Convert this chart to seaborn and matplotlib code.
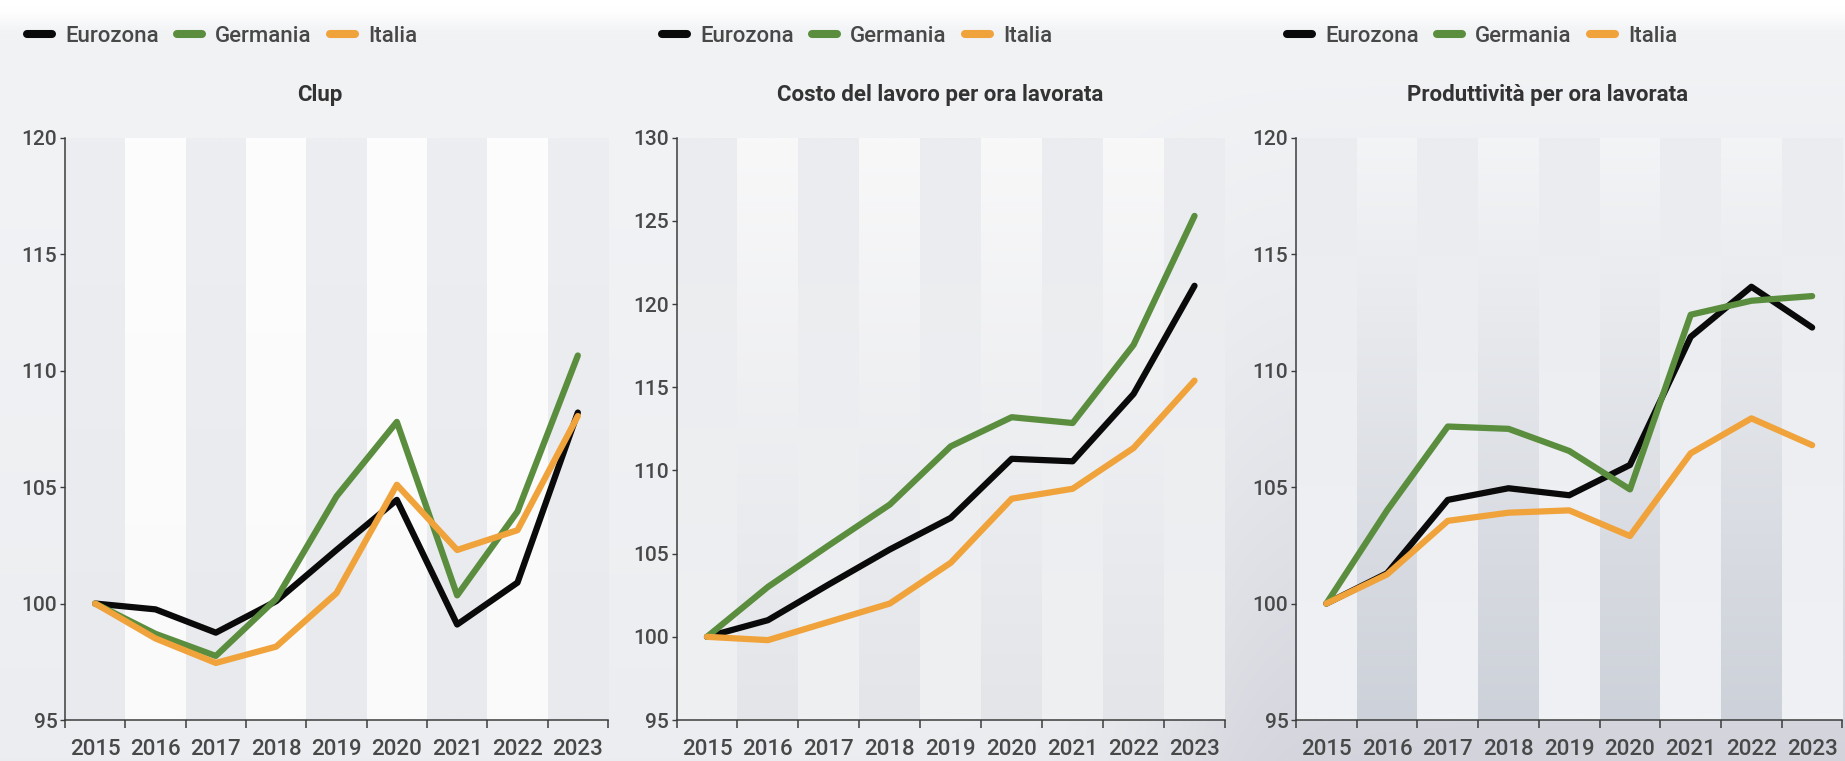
import numpy as np
import pandas as pd
import matplotlib
matplotlib.use("Agg")
import matplotlib.pyplot as plt
from matplotlib.lines import Line2D
from matplotlib.colors import to_rgb
import seaborn as sns

# ---- data -----------------------------------------------------------------
anni = ["2015", "2016", "2017", "2018", "2019", "2020", "2021", "2022", "2023"]
serie = ["Eurozona", "Germania", "Italia"]

clup_eurozona = [100.0, 99.75, 98.75, 100.1, 102.3, 104.45, 99.1, 100.9, 108.2]
clup_germania = [100.0, 98.7, 97.75, 100.2, 104.6, 107.8, 100.35, 103.95, 110.65]
clup_italia = [100.0, 98.5, 97.45, 98.15, 100.45, 105.1, 102.3, 103.15, 108.05]

costo_eurozona = [100.0, 101.0, 103.15, 105.25, 107.15, 110.7, 110.55, 114.6, 121.1]
costo_germania = [100.0, 103.0, 105.5, 107.95, 111.45, 113.2, 112.85, 117.55, 125.3]
costo_italia = [100.0, 99.8, 100.9, 102.0, 104.45, 108.3, 108.9, 111.35, 115.4]

prod_eurozona = [100.0, 101.3, 104.45, 104.95, 104.65, 105.95, 111.45, 113.6, 111.85]
prod_germania = [100.0, 104.0, 107.6, 107.5, 106.55, 104.9, 112.4, 113.0, 113.2]
prod_italia = [100.0, 101.25, 103.55, 103.9, 104.0, 102.9, 106.45, 107.95, 106.8]

titoli = ["Clup", "Costo del lavoro per ora lavorata", "Produttività per ora lavorata"]
limiti_y = [(95, 120), (95, 130), (95, 120)]

pannelli = [
    (clup_eurozona, clup_germania, clup_italia),
    (costo_eurozona, costo_germania, costo_italia),
    (prod_eurozona, prod_germania, prod_italia),
]

colori = {"Eurozona": "#0a0a0a", "Germania": "#5a8e3e", "Italia": "#f0a23b"}

# ---- style ----------------------------------------------------------------
sns.set_theme(style="white")
plt.rcParams["font.family"] = ["Roboto", "DejaVu Sans"]
plt.rcParams["lines.solid_capstyle"] = "round"
plt.rcParams["lines.solid_joinstyle"] = "round"

W, H = 1845, 761
fig = plt.figure(figsize=(W / 100, H / 100), dpi=100, facecolor="white")

# soft page background: white band at the top, light grey below,
# getting a little darker towards the lower right
bg = fig.add_axes([0, 0, 1, 1], zorder=-10)
h, w = 190, 369
yy = np.linspace(0, H, h)[:, None]
xx = np.linspace(0, W, w)[None, :]
ty = np.clip((yy - 22) / (H - 22), 0, 1)
dark = ty ** 1.4 * (6 + 26 / (1 + np.exp(-(xx - 1180) / 50)))
fade = np.clip((yy - 8) / 22, 0, 1)
r = 255 - fade * (13 + dark)
g = 255 - fade * (12 + dark)
b = 255 - fade * (10 + dark * 0.8)
bg.imshow(np.dstack([r, g, b]) / 255, extent=[0, 1, 0, 1], aspect="auto",
          interpolation="bilinear", origin="upper")
bg.set_axis_off()

# stripe colours per panel: (even top, even bottom, odd top, odd bottom)
strisce = [
    ("#eceef1", "#e8eaee", "#fdfdfd", "#fafafb"),
    ("#eaecef", "#eef0f2", "#f8f8f9", "#e3e5e9"),
    ("#eaecef", "#eff1f4", "#f3f4f6", "#cdd1d9"),
]

# axes rectangles in pixels: left, width
rett = [(65, 543), (676.5, 548.5), (1296, 546.5)]
bottom_px, top_px = 720, 137.7
titolo_x = [320, 940, 1548]
legenda_x = [27, 662, 1287]

testo = "#484848"
asse = "#3c3c3c"

for k in range(3):
    left, width = rett[k]
    ax = fig.add_axes([left / W, (H - bottom_px) / H, width / W, (bottom_px - top_px) / H])
    ax.set_facecolor("none")
    ymin, ymax = limiti_y[k]

    # alternating vertical bands, one per year
    ta, ba, tb, bb = strisce[k]
    grad = np.linspace(0, 1, 64)[:, None, None]
    for i in range(len(anni)):
        c0, c1 = (ta, ba) if i % 2 == 0 else (tb, bb)
        img = np.array(to_rgb(c0))[None, None, :] * (1 - grad) + np.array(to_rgb(c1))[None, None, :] * grad
        img = np.repeat(img, 2, axis=1)
        ax.imshow(img, extent=[i - 0.5, i + 0.5, ymin, ymax], origin="upper",
                  aspect="auto", interpolation="bilinear", zorder=0)

    df = pd.DataFrame({
        "pos": list(range(len(anni))) * 3,
        "valore": pannelli[k][0] + pannelli[k][1] + pannelli[k][2],
        "serie": [s for s in serie for _ in anni],
    })
    sns.lineplot(data=df, x="pos", y="valore", hue="serie", hue_order=serie,
                 palette=colori, linewidth=4.5, legend=False, ax=ax, zorder=3)

    ax.set_xlim(-0.5, len(anni) - 0.5)
    ax.set_ylim(ymin, ymax)
    ax.set_xlabel("")
    ax.set_ylabel("")

    # ticks at band edges, year labels centred in each band
    ax.set_xticks(np.arange(-0.5, len(anni), 1.0))
    ax.set_xticklabels([])
    ax.set_xticks(np.arange(len(anni)), minor=True)
    ax.set_xticklabels(anni, minor=True, fontweight="medium")
    ax.tick_params(axis="x", which="major", length=6, width=1.1, color=asse, direction="out", bottom=True)
    ax.tick_params(axis="x", which="minor", length=0, pad=13.5, labelsize=16, labelcolor=testo, bottom=True)

    ax.set_yticks(np.arange(ymin, ymax + 1, 5))
    ax.set_yticklabels([str(v) for v in range(ymin, ymax + 1, 5)], fontweight="medium")
    ax.tick_params(axis="y", which="major", length=3.5, width=1.0, color=asse, pad=2,
                   labelsize=15, labelcolor=testo, left=True)

    for s in ["top", "right"]:
        ax.spines[s].set_visible(False)
    for s in ["left", "bottom"]:
        ax.spines[s].set_color(asse)
        ax.spines[s].set_linewidth(1.1)
        ax.spines[s].set_zorder(4)

    fig.text(titolo_x[k] / W, 1 - 95 / H, titoli[k], ha="center", va="center",
             fontsize=16, fontweight="bold", color="#333333")

    maniglie = [Line2D([0], [0], color=colori[s], lw=5.8, solid_capstyle="round") for s in serie]
    leg = fig.legend(maniglie, serie, loc="center left",
                     bbox_to_anchor=(legenda_x[k] / W, 1 - 36.7 / H), ncol=3, frameon=False,
                     borderpad=0, borderaxespad=0, handlelength=1.13, handletextpad=0.6,
                     columnspacing=0.8, fontsize=16, labelcolor=testo)
    for t in leg.get_texts():
        t.set_fontweight("medium")

fig.savefig("out.png", dpi=100, facecolor=fig.get_facecolor())
